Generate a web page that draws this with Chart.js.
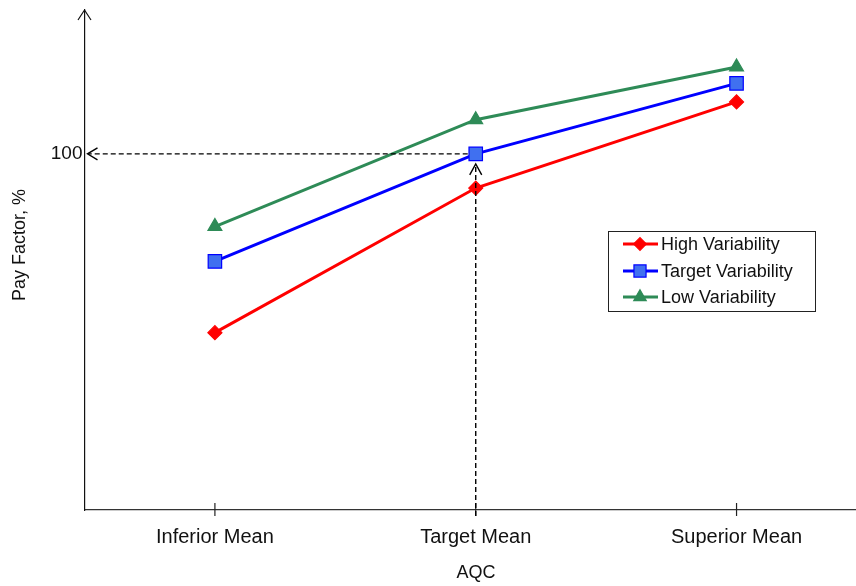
<!DOCTYPE html>
<html>
<head>
<meta charset="utf-8">
<script src="https://cdn.jsdelivr.net/npm/chart.js@4/dist/chart.umd.min.js"></script>
<style>
html,body{margin:0;padding:0;background:#fff;}
#wrap{width:856px;height:586px;position:relative;}
</style>
</head>
<body>
<div id="wrap"><canvas id="c" width="856" height="586"></canvas></div>
<script>
// ---- data ----
const categories = ['Inferior Mean', 'Target Mean', 'Superior Mean'];
const seriesLabels = ['High Variability', 'Target Variability', 'Low Variability'];
const highVariability = [49.8, 90.4, 114.6];
const targetVariability = [69.8, 100, 119.8];
const lowVariability = [79.6, 109.6, 124.4];
const yTickValues = [100];
const refCategoryIndex = 1;   // Target Mean
const refValue = 100;         // Pay Factor reference
const xAxisTitle = 'AQC';
const yAxisTitle = 'Pay Factor, %';

const FONT = '"Liberation Sans", Arial, sans-serif';
const TXT = '#111';

function pts(arr){ return arr.map((v,i)=>({x:i, y:v})); }

const styles = [
  {color:'#ff0000', fill:'#ff0000', pointStyle:'rectRot', radius:7},
  {color:'#0000ff', fill:'#4070f0', pointStyle:'rect', radius:9.5},
  {color:'#2e8b57', fill:'#2e8b57', pointStyle:'triangle', radius:8}
];
const seriesData = [highVariability, targetVariability, lowVariability];

const datasets = seriesData.map((arr,k)=>({
  label: seriesLabels[k],
  data: pts(arr),
  borderColor: styles[k].color,
  backgroundColor: styles[k].fill,
  pointBackgroundColor: styles[k].fill,
  pointBorderColor: styles[k].color,
  pointBorderWidth: 1.2,
  pointStyle: styles[k].pointStyle,
  pointRadius: styles[k].radius,
  pointHoverRadius: styles[k].radius,
  borderWidth: 3,
  tension: 0,
  fill: false,
  clip: false
}));

function line(ctx,x1,y1,x2,y2){ctx.beginPath();ctx.moveTo(x1,y1);ctx.lineTo(x2,y2);ctx.stroke();}

const decor = {
  id:'decor',
  afterDatasetsDraw(chart){
    const ctx = chart.ctx, ca = chart.chartArea;
    const xs = chart.scales.x, ys = chart.scales.y;
    ctx.save();
    // y axis top arrow
    ctx.strokeStyle = '#111'; ctx.lineWidth = 1.2;
    ctx.beginPath();
    ctx.moveTo(ca.left-6.5, ca.top+10); ctx.lineTo(ca.left, ca.top); ctx.lineTo(ca.left+6.5, ca.top+10);
    ctx.stroke();
    // x tick marks crossing axis
    ctx.strokeStyle = '#222'; ctx.lineWidth = 1.2;
    categories.forEach((c,i)=>{
      const px = xs.getPixelForValue(i);
      line(ctx, px, ca.bottom-7, px, ca.bottom+6);
    });
    // reference dashed lines
    const rx = xs.getPixelForValue(refCategoryIndex);
    const ry = ys.getPixelForValue(refValue);
    ctx.strokeStyle = '#000'; ctx.lineWidth = 1.4;
    ctx.setLineDash([5,3]);
    line(ctx, rx-8, ry, ca.left+4, ry);
    line(ctx, rx, ca.bottom+6, rx, ry+11);
    ctx.setLineDash([]);
    // arrowheads
    ctx.beginPath();
    ctx.moveTo(ca.left+13, ry-6); ctx.lineTo(ca.left+3, ry); ctx.lineTo(ca.left+13, ry+6);
    ctx.stroke();
    ctx.beginPath();
    ctx.moveTo(rx-6, ry+21); ctx.lineTo(rx, ry+10); ctx.lineTo(rx+6, ry+21);
    ctx.stroke();
    ctx.restore();
  },
  afterDraw(chart){
    const ctx = chart.ctx;
    ctx.save();
    // axis titles
    ctx.fillStyle = TXT;
    ctx.font = '18px ' + FONT;
    ctx.textAlign = 'center'; ctx.textBaseline = 'middle';
    ctx.fillText(xAxisTitle, 476, 573);
    ctx.save();
    ctx.translate(20, 245); ctx.rotate(-Math.PI/2);
    ctx.fillText(yAxisTitle, 0, 0);
    ctx.restore();
    // legend
    const bx = 608, by = 231, bw = 207, bh = 80;
    ctx.fillStyle = '#fff'; ctx.fillRect(bx, by, bw, bh);
    ctx.strokeStyle = '#222'; ctx.lineWidth = 1;
    ctx.strokeRect(bx+0.5, by+0.5, bw, bh);
    const rows = [244, 271, 297];
    chart.data.datasets.forEach((ds,k)=>{
      const y = rows[k];
      ctx.strokeStyle = ds.borderColor; ctx.lineWidth = 3;
      line(ctx, 623, y, 658, y);
      ctx.fillStyle = ds.pointBackgroundColor; ctx.strokeStyle = ds.pointBorderColor;
      ctx.lineWidth = 1.2;
      Chart.helpers.drawPoint(ctx, {pointStyle: ds.pointStyle, radius: ds.pointRadius*0.9, borderWidth:1.2, rotation:0}, 640, y);
      ctx.fillStyle = TXT; ctx.font = '18px ' + FONT;
      ctx.textAlign = 'left'; ctx.textBaseline = 'middle';
      ctx.fillText(ds.label, 661, y+1);
    });
    ctx.restore();
  }
};

new Chart(document.getElementById('c'), {
  type: 'line',
  data: { datasets },
  options: {
    responsive: false,
    animation: false,
    events: [],
    layout: { autoPadding: false, padding: { top: 10, left: 0, right: 0, bottom: 0 } },
    plugins: { legend: { display: false }, tooltip: { enabled: false } },
    scales: {
      x: {
        type: 'linear',
        min: -0.5,
        max: 2.458,
        afterFit(s){ s.height = 76; s.paddingLeft = 0; s.paddingRight = 0; },
        afterBuildTicks(s){ s.ticks = categories.map((c,i)=>({value:i})); },
        grid: { display: false, drawTicks: false },
        border: { display: true, color: '#333', width: 1.2 },
        ticks: {
          autoSkip: false, maxRotation: 0, padding: 15,
          color: TXT, font: { family: FONT, size: 20 },
          callback: (v)=> categories[v] ?? ''
        }
      },
      y: {
        type: 'linear',
        min: 0,
        max: 140.4,
        afterFit(s){ s.width = 84.5; s.paddingTop = 0; s.paddingBottom = 0; },
        afterBuildTicks(s){ s.ticks = yTickValues.map(v=>({value:v})); },
        grid: { display: false, drawTicks: false },
        border: { display: true, color: '#111', width: 1.2 },
        ticks: { padding: 2, color: TXT, font: { family: FONT, size: 19 } }
      }
    }
  },
  plugins: [decor]
});
</script>
</body>
</html>
